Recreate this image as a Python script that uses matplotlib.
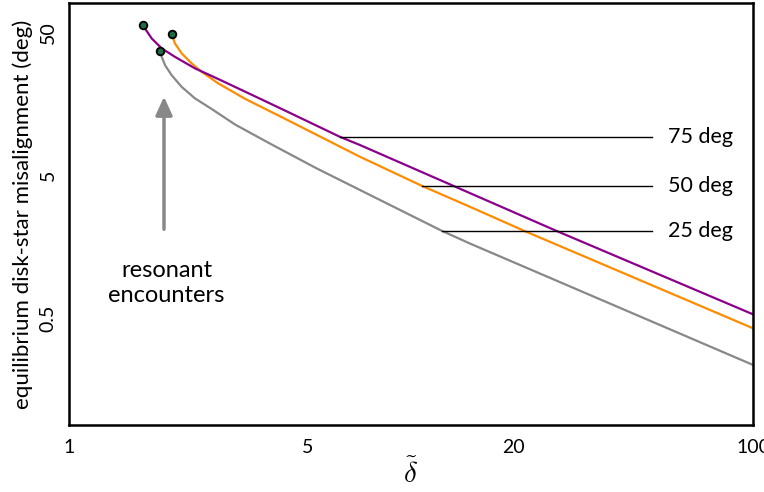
import matplotlib
matplotlib.use("Agg")
import matplotlib.pyplot as plt

plt.rcParams["font.family"] = ["Lato", "DejaVu Sans"]
plt.rcParams["mathtext.fontset"] = "cm"

# curves (delta tilde, misalignment in deg)
x_75 = [1.645, 1.745, 1.867, 2.041, 2.336, 2.733, 3.27, 4.14, 6.20, 7.10, 14.88, 26.7, 100]
y_75 = [55.7, 45.2, 38.5, 33.6, 27.9, 23.5, 19.2, 14.7, 9.26, 8.11, 3.74, 2.03, 0.531]

x_50 = [1.996, 2.041, 2.136, 2.285, 2.443, 2.733, 3.27, 4.14, 7.10, 10.75, 14.88, 21.5, 100]
y_50 = [48.7, 41.7, 35.5, 30.2, 26.4, 21.9, 17.1, 12.9, 6.71, 4.21, 3.00, 2.03, 0.424]

x_25 = [1.845, 1.867, 1.909, 1.996, 2.136, 2.336, 2.614, 3.058, 3.87, 5.30, 12.3, 14.88, 100]
y_25 = [37.0, 33.6, 29.4, 25.0, 20.7, 17.2, 14.5, 11.3, 8.31, 5.57, 2.04, 1.66, 0.235]

labels = ["75 deg", "50 deg", "25 deg"]
label_start_x = [6.20, 10.75, 12.3]
label_y = [9.26, 4.21, 2.04]
label_end_x = 50.5
label_text_x = 56.5

xticks = [1, 5, 20, 100]
yticks = [0.5, 5, 50]

fig = plt.figure(figsize=(7.64, 4.92), dpi=100)
ax = fig.add_axes([0.0903, 0.1362, 0.8953, 0.8577])

ax.plot(x_25, y_25, color="#888888", lw=1.6)
ax.plot(x_50, y_50, color="#ff8c00", lw=1.6)
ax.plot(x_75, y_75, color="#8b008b", lw=1.6)

starts_x = [x_75[0], x_50[0], x_25[0]]
starts_y = [y_75[0], y_50[0], y_25[0]]
ax.plot(starts_x, starts_y, "o", ms=5.5, mfc="#1f6b45", mec="black", mew=1.3, zorder=5)

for sx, ly, lab in zip(label_start_x, label_y, labels):
    ax.plot([sx, label_end_x], [ly, ly], color="black", lw=1.0)
    ax.text(label_text_x, ly, lab, fontsize=15.5, va="center", ha="left")

ax.annotate("", xy=(1.896, 18.5), xytext=(1.896, 2.0),
            arrowprops=dict(arrowstyle="-|>,head_length=1.1,head_width=0.5",
                            color="#888888", lw=2.5))
ax.text(1.93, 0.88, "resonant\nencounters", fontsize=17, ha="center", va="center",
        linespacing=1.2)

ax.set_xscale("log")
ax.set_yscale("log")
ax.set_xlim(1, 100)
ax.set_ylim(0.0893, 80)

ax.set_xticks(xticks)
ax.set_xticklabels([str(t) for t in xticks], fontsize=14)
ax.set_yticks(yticks)
ax.set_yticklabels([str(t) for t in yticks], fontsize=14, rotation=90, va="center")
ax.minorticks_off()
ax.tick_params(axis="x", length=0, pad=10)
ax.tick_params(axis="y", length=0, pad=9)

ax.set_xlabel(r"$\tilde{\delta}$", fontsize=21, labelpad=1)
ax.set_ylabel("equilibrium disk-star misalignment (deg)", fontsize=16, labelpad=5)
for s in ax.spines.values():
    s.set_linewidth(1.8)

fig.savefig("out.png", dpi=100)
